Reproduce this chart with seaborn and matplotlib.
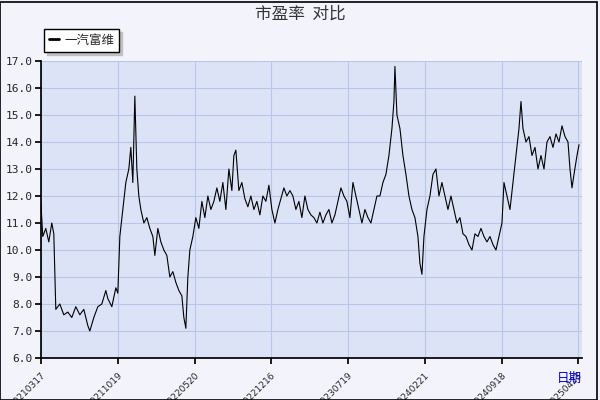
import matplotlib
matplotlib.use("Agg")
import matplotlib.pyplot as plt
import seaborn as sns
import pandas as pd
from matplotlib.patches import Rectangle

sns.set_theme(style="white")
plt.rcParams['font.family'] = ['Noto Sans CJK SC', 'DejaVu Sans']

# x position in chart units (0 = 20210317), PE values
t = [0, 2, 5, 8, 11, 13, 15, 19, 23, 27, 31, 35, 39, 43, 47, 49, 53, 57, 61, 65, 67, 71, 75, 77,
     79, 82, 85, 88, 90, 92, 94, 96, 98, 100, 103, 106, 109, 112, 114, 117, 120, 123, 126, 129,
     132, 135, 138, 141, 143, 145, 147, 149, 152, 155, 158, 161, 164, 167, 170, 173, 176, 179,
     182, 185, 188, 191, 193, 195, 198, 201, 204, 207, 210, 213, 216, 219, 222, 225, 228, 231,
     234, 237, 240, 243, 246, 249, 252, 255, 258, 261, 264, 267, 270, 273, 276, 279, 282, 285,
     288, 291, 294, 297, 300, 303, 306, 309, 312, 315, 318, 321, 324, 327, 330, 333, 336, 339,
     342, 345, 348, 351, 353, 354, 356, 359, 362, 365, 368, 371, 374, 377, 379, 381, 383, 386,
     389, 392, 395, 398, 401, 404, 407, 410, 413, 416, 419, 422, 425, 428, 431, 434, 437, 440,
     443, 446, 449, 452, 455, 458, 461, 463, 466, 469, 472, 475, 478, 480, 482, 485, 488, 491,
     494, 497, 500, 503, 506, 509, 512, 515, 518, 521, 524, 527, 529, 531, 533, 536, 538]
pe = [11.8, 10.5, 10.8, 10.3, 11.0, 10.6, 7.8, 8.0, 7.6, 7.7, 7.5, 7.9, 7.6, 7.8, 7.2, 7.0, 7.5,
      7.9, 8.0, 8.5, 8.2, 7.9, 8.6, 8.4, 10.5, 11.5, 12.5, 13.0, 13.8, 12.5, 15.7, 13.0, 12.0,
      11.5, 11.0, 11.2, 10.8, 10.5, 9.8, 10.8, 10.3, 10.0, 9.8, 9.0, 9.2, 8.8, 8.5, 8.3, 7.5,
      7.1, 9.0, 10.0, 10.5, 11.2, 10.8, 11.8, 11.2, 12.0, 11.5, 11.8, 12.3, 11.8, 12.5, 11.5,
      13.0, 12.2, 13.5, 13.7, 12.2, 12.5, 11.9, 11.6, 12.0, 11.5, 11.8, 11.3, 12.0, 11.8, 12.4,
      11.5, 11.0, 11.5, 11.9, 12.3, 12.0, 12.2, 12.0, 11.5, 11.8, 11.2, 12.0, 11.5, 11.3, 11.2,
      11.0, 11.4, 11.0, 11.3, 11.5, 11.0, 11.3, 11.8, 12.3, 12.0, 11.8, 11.2, 12.5, 12.0, 11.5,
      11.0, 11.5, 11.2, 11.0, 11.5, 12.0, 12.0, 12.5, 12.8, 13.5, 14.5, 15.5, 16.8, 15.0, 14.5,
      13.5, 12.8, 12.0, 11.5, 11.2, 10.5, 9.5, 9.1, 10.5, 11.5, 12.0, 12.8, 13.0, 12.0, 12.5,
      12.0, 11.5, 12.0, 11.5, 11.0, 11.2, 10.6, 10.5, 10.2, 10.0, 10.6, 10.5, 10.8, 10.5, 10.3,
      10.5, 10.2, 10.0, 10.5, 11.0, 12.5, 12.0, 11.5, 12.5, 13.5, 14.5, 15.5, 14.5, 14.0, 14.2,
      13.5, 13.8, 13.0, 13.5, 13.0, 14.0, 14.2, 13.8, 14.3, 14.0, 14.6, 14.2, 14.0, 13.0, 12.3,
      12.8, 13.5, 13.9]
tick_pos = [0, 77, 154, 230, 307, 384, 461, 537]
tick_labels = ["20210317", "20211019", "20220520", "20221216", "20230719", "20240221",
               "20240918", "20250423"]

df = pd.DataFrame({"t": t[:len(pe)], "pe": pe[:len(t)]})

fig = plt.figure(figsize=(6, 4), dpi=100)
fig.patch.set_facecolor("#f2f3fb")
ax = fig.add_axes([0.068, 0.105, 0.902, 0.7425])
ax.set_facecolor("#dce3f6")
sns.lineplot(data=df, x="t", y="pe", ax=ax, color="black", linewidth=0.8, label="一汽富维")
ax.set_xlim(0, 541)
ax.set_ylim(6, 17)
ax.set_yticks([6 + i for i in range(12)])
ax.set_yticklabels([f"{6 + i:.1f}" for i in range(12)], fontsize=8, family="DejaVu Sans Mono")
ax.set_xticks(tick_pos)
ax.set_xticklabels(tick_labels, rotation=45, ha="right", va="top", rotation_mode="anchor",
                   fontsize=6.5, family="DejaVu Sans")
ax.grid(True, color="#b8c6ea", linewidth=0.8)
ax.tick_params(axis="both", length=4, direction="out", color="black", pad=2)
ax.tick_params(axis="x", pad=5)
ax.tick_params(axis="both", which="both", bottom=True, left=True)
for s in ["top", "right"]:
    ax.spines[s].set_visible(False)
for s in ["left", "bottom"]:
    ax.spines[s].set_color("black")
ax.set_xlabel("")
ax.set_ylabel("")
leg = ax.legend(loc="lower left", bbox_to_anchor=(-0.005, 1.01), frameon=True, fancybox=False,
                edgecolor="black", fontsize=9, handlelength=0.8, handletextpad=0.4,
                borderpad=0.4, shadow={"color": "#c0c0c0", "alpha": 1})
for ln in leg.get_lines():
    ln.set_linewidth(2)
fig.text(0.5, 0.965, "市盈率  对比", ha="center", va="center", fontsize=12, color="#333333")
fig.text(0.928, 0.055, "日期", color="#0000cc", fontsize=9, ha="left", va="center")
fig.patches.append(Rectangle((0.0, 0.0), 0.995, 0.995, transform=fig.transFigure,
                             fill=False, edgecolor="black", linewidth=1.2))
fig.savefig("out.png", dpi=100, facecolor=fig.get_facecolor())
